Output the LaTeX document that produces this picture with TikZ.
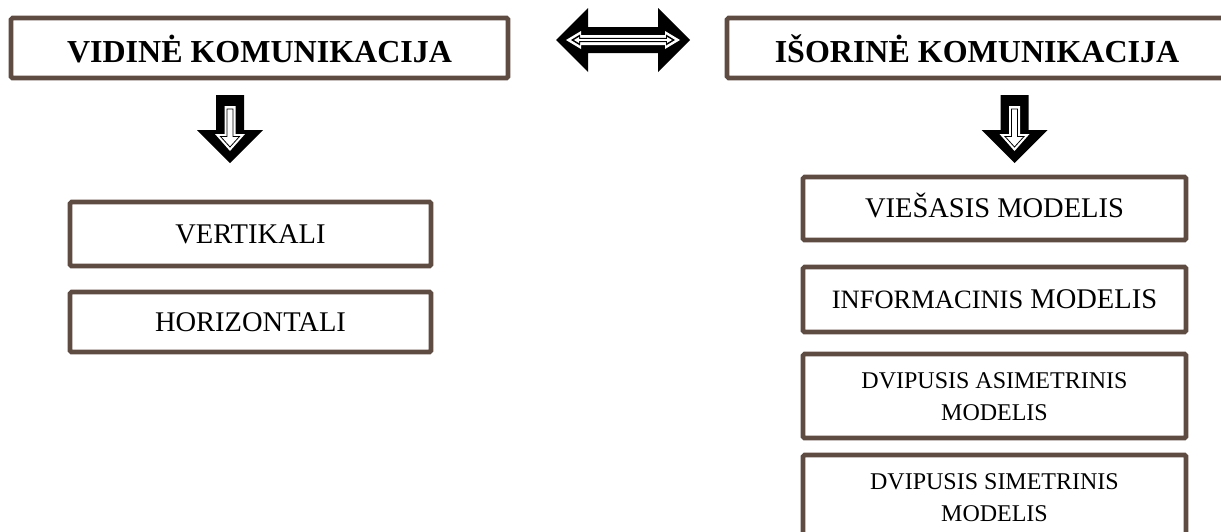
\documentclass[tikz,border=0pt]{standalone}
\usepackage{fontspec}
\setmainfont{Liberation Serif}
\definecolor{boxbrown}{RGB}{94,76,67}
\newcommand\oneline[1]{\raisebox{0pt}[0.66em][0pt]{#1}}
\newcommand\headline[1]{\raisebox{0pt}[29pt][0pt]{#1}}
\newcommand\twoline[2]{\raisebox{0pt}[48pt][0pt]{\vbox{\baselineskip=32pt\halign{\hfil##\hfil\cr #1\cr #2\cr}}}}
\tikzset{
  boxnode/.style={draw=boxbrown, line width=4.6pt, rounded corners=1.5pt, inner sep=0pt, fill=white},
  headfont/.style={font=\fontsize{32}{38}\selectfont\bfseries},
  itemfont/.style={font=\fontsize{28.5}{34}\selectfont},
  smallfont/.style={font=\fontsize{24}{32}\selectfont},
  pics/blockdown/.style={code={
    \fill[black] (-14,0) -- (14,0) -- (14,35) -- (33,35) -- (0,68) -- (-33,35) -- (-14,35) -- cycle;
    \fill[white] (-5.5,11) -- (5.5,11) -- (5.5,39) -- (15,39) -- (0,56) -- (-15,39) -- (-5.5,39) -- cycle;
    \draw[black, line width=0.8pt] (-3,14) -- (3,14) -- (3,41.5) -- (9.5,41.5) -- (0,52) -- (-9.5,41.5) -- (-3,41.5) -- cycle;
  }},
  pics/blockboth/.style={code={
    \fill[black] (-67,0) -- (-35,-32) -- (-35,-13) -- (35,-13) -- (35,-32) -- (67,0) -- (35,32) -- (35,13) -- (-35,13) -- (-35,32) -- cycle;
    \fill[white] (-57,0) -- (-42,-9) -- (-42,-5) -- (42,-5) -- (42,-9) -- (57,0) -- (42,9) -- (42,5) -- (-42,5) -- (-42,9) -- cycle;
    \fill[black] (-52,0) -- (-43,-5.5) -- (-43,-2.2) -- (43,-2.2) -- (43,-5.5) -- (52,0) -- (43,5.5) -- (43,2.2) -- (-43,2.2) -- (-43,5.5) -- cycle;
    \fill[white] (-49,0) -- (-44,-3) -- (-44,-0.8) -- (44,-0.8) -- (44,-3) -- (49,0) -- (44,3) -- (44,0.8) -- (-44,0.8) -- (-44,3) -- cycle;
  }}
}
\begin{document}
\begin{tikzpicture}[x=1pt, y=-1pt]
\clip (0,0) rectangle (1221,531);
\fill[white] (0,0) rectangle (1221,531);

% headers
\node[boxnode, headfont, minimum width=497pt, minimum height=60pt] (vid) at (259.5,48) {\headline{VIDINĖ KOMUNIKACIJA}};
\node[boxnode, headfont, minimum width=500pt, minimum height=60pt] (isor) at (977,48) {\headline{IŠORINĖ KOMUNIKACIJA}};

% double arrow between headers
\path (623,40) pic {blockboth};

% down arrows
\path (230,95) pic {blockdown};
\path (1014.5,95) pic {blockdown};

% left items
\node[boxnode, itemfont, minimum width=361pt, minimum height=64pt] (vert) at (250.5,234) {\oneline{VERTIKALI}};
\node[boxnode, itemfont, minimum width=361pt, minimum height=60pt] (horiz) at (250.5,322) {\oneline{HORIZONTALI}};

% right items
\node[boxnode, itemfont, minimum width=383pt, minimum height=63pt] (vies) at (994.5,208.5) {\oneline{VIEŠASIS MODELIS}};
\node[boxnode, itemfont, minimum width=383pt, minimum height=65pt] (info) at (994.5,299.5) {\oneline{{\fontsize{26.5}{32}\selectfont INFORMACINIS} MODELIS}};
\node[boxnode, smallfont, minimum width=383pt, minimum height=84pt] (asim) at (994.5,396) {\twoline{DVIPUSIS ASIMETRINIS}{MODELIS}};
\node[boxnode, smallfont, minimum width=383pt, minimum height=84pt] (sim) at (994.5,497) {\twoline{DVIPUSIS SIMETRINIS}{MODELIS}};
\end{tikzpicture}
\end{document}
